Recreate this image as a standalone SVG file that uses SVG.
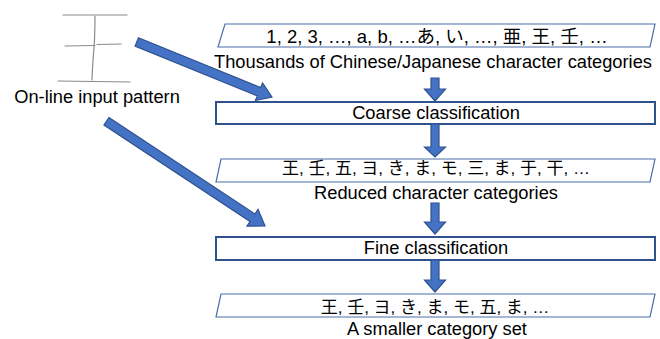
<svg xmlns="http://www.w3.org/2000/svg" width="660" height="339" viewBox="0 0 660 339">
<defs>
<style>
text{font-family:"Liberation Sans","Noto Sans CJK JP",sans-serif;font-size:18.3px;fill:#000;text-anchor:middle}
.cjk{font-size:17px}
.row1{font-size:18.5px}
.box{fill:#fff;stroke:#2F528F;stroke-width:2}
.para{fill:#fff;stroke:#4A6FA8;stroke-width:1.2}
.arr{fill:#4472C4;stroke:#2F528F;stroke-width:1.2;stroke-linejoin:miter}
.hand{fill:none;stroke:#8a8a8a;stroke-width:1.2;stroke-linecap:round}
</style>
</defs>
<rect width="660" height="339" fill="#fff"/>

<g id="input">
<path class="hand" d="M63,15 L127,15"/>
<path class="hand" d="M65,46 L95,45.5 M97,44.5 L121,44"/>
<path class="hand" d="M58,81 L130,82"/>
<path class="hand" d="M95,16 C95,40 94,50 93,60 C92.5,70 92,75 92,80"/>
<text x="97" y="103">On-line input pattern</text>
</g>

<g id="all-categories">
<polygon class="para" points="225,24 655,24 650,47 218,47"/>
<text class="row1" x="437" y="43">1, 2, 3, …, a, b, …あ, い, …, 亜, 王, 壬, …</text>
<text x="433" y="68">Thousands of Chinese/Japanese character categories</text>
</g>

<g id="coarse">
<rect class="box" x="216" y="102" width="439" height="22"/>
<text x="436" y="119">Coarse classification</text>
</g>

<g id="reduced">
<polygon class="para" points="221,159 655,159 650,182 216,182"/>
<text class="cjk" x="436" y="174">王, 壬, 五, ヨ, き, ま, モ, 三, ま, 于, 干, …</text>
<text x="436" y="199">Reduced character categories</text>
</g>

<g id="fine">
<rect class="box" x="216" y="237" width="439" height="23"/>
<text x="436" y="254">Fine classification</text>
</g>

<g id="smaller">
<polygon class="para" points="221,294 655,294 650,317 216,317"/>
<text class="cjk" x="435" y="313">王, 壬, ヨ, き, ま, モ, 五, ま, …</text>
<text x="437" y="335">A smaller category set</text>
</g>

<g id="connectors">
<polygon class="arr" transform="translate(272,97) rotate(22.17)" points="-146,-4.5 -14,-4.5 -14,-9.5 0,0 -14,9.5 -14,4.5 -146,4.5"/>
<polygon class="arr" transform="translate(265,226) rotate(33.44)" points="-190,-4.5 -15,-4.5 -15,-10 0,0 -15,10 -15,4.5 -190,4.5"/>
<polygon class="arr" transform="translate(435,101) rotate(90)" points="-23,-4 -12,-4 -12,-10.5 0,0 -12,10.5 -12,4 -23,4"/>
<polygon class="arr" transform="translate(435,157) rotate(90)" points="-33,-4 -10,-4 -10,-10.5 0,0 -10,10.5 -10,4 -33,4"/>
<polygon class="arr" transform="translate(435,234) rotate(90)" points="-31,-4 -12,-4 -12,-10.5 0,0 -12,10.5 -12,4 -31,4"/>
<polygon class="arr" transform="translate(435,292) rotate(90)" points="-32,-4 -12,-4 -12,-10.5 0,0 -12,10.5 -12,4 -32,4"/>
</g>
</svg>
